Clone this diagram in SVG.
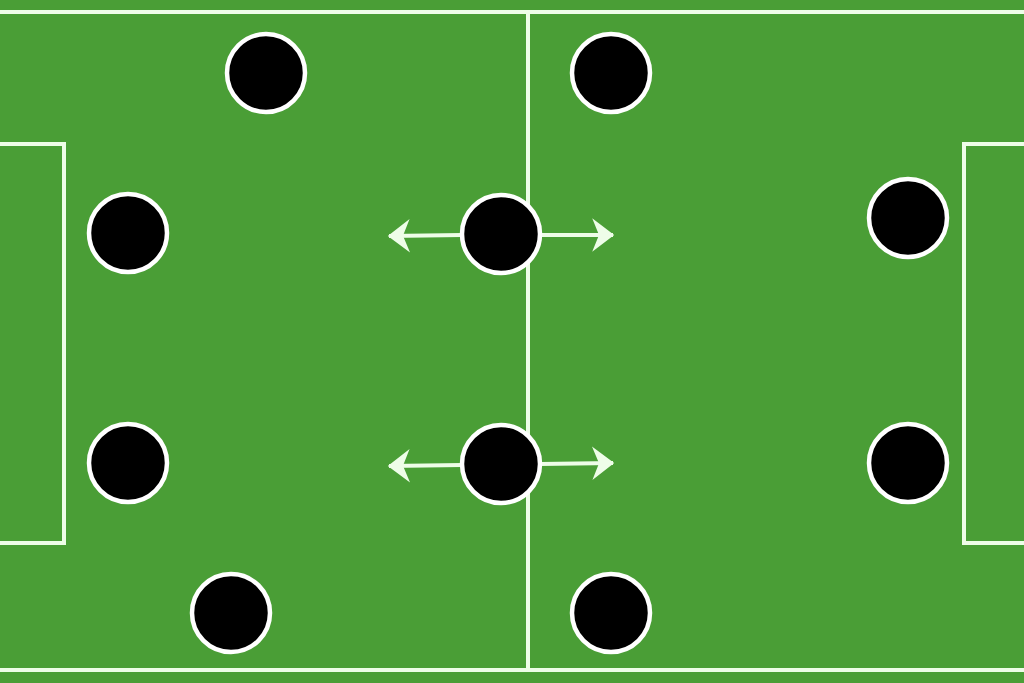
<svg xmlns="http://www.w3.org/2000/svg" width="1024" height="683" viewBox="0 0 1024 683">
<defs>
<style>
.line{stroke:#eefde8;stroke-width:4;fill:none}
.player{fill:#000;stroke:#fff;stroke-width:4.5}
.arrow{stroke:#eefde8;stroke-width:4;fill:none;marker-end:url(#head)}
</style>
<marker id="head" markerWidth="8" markerHeight="10" refX="5.5" refY="5" orient="auto" markerUnits="strokeWidth">
<path d="M0.3,0.8 L5.8,5 L0.3,9.2 L2,5 Z" fill="#eefde8"/>
</marker>
</defs>
<rect width="1024" height="683" fill="#4a9e36"/>
<g id="pitch">
<line class="line" x1="0" y1="12" x2="1024" y2="12"/>
<line class="line" x1="0" y1="670" x2="1024" y2="670"/>
<line class="line" x1="528" y1="12" x2="528" y2="670"/>
<polyline class="line" points="0,144 64,144 64,543 0,543"/>
<polyline class="line" points="1024,144 964,144 964,543 1024,543"/>
</g>
<g id="connectors">
<line class="arrow" x1="462" y1="235" x2="389" y2="236"/>
<line class="arrow" x1="540" y1="235" x2="613" y2="235"/>
<line class="arrow" x1="462" y1="465" x2="389" y2="466"/>
<line class="arrow" x1="540" y1="464" x2="613" y2="463"/>
</g>
<g id="p1"><circle class="player" cx="266" cy="73" r="39"/></g>
<g id="p2"><circle class="player" cx="611" cy="73" r="39"/></g>
<g id="p3"><circle class="player" cx="128" cy="233" r="39"/></g>
<g id="p4"><circle class="player" cx="501" cy="234" r="39"/></g>
<g id="p5"><circle class="player" cx="908" cy="218" r="39"/></g>
<g id="p6"><circle class="player" cx="128" cy="463" r="39"/></g>
<g id="p7"><circle class="player" cx="501" cy="464" r="39"/></g>
<g id="p8"><circle class="player" cx="908" cy="463" r="39"/></g>
<g id="p9"><circle class="player" cx="231" cy="613" r="39"/></g>
<g id="p10"><circle class="player" cx="611" cy="613" r="39"/></g>
</svg>
